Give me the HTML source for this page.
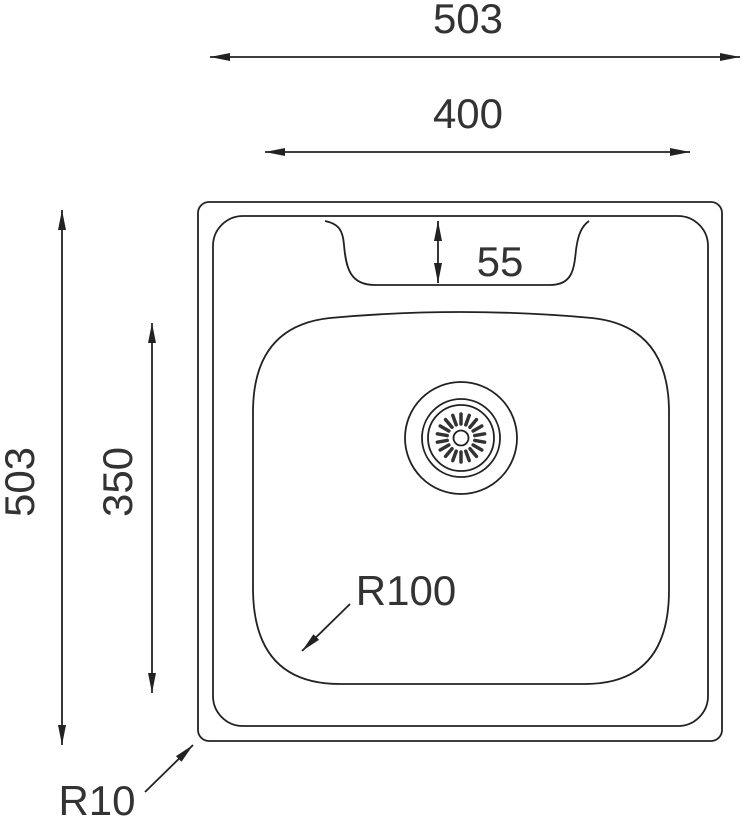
<!DOCTYPE html>
<html><head><style>html,body{margin:0;padding:0;background:#fff}svg{display:block}text{font-family:"Liberation Sans",sans-serif;font-size:42px;fill:#333;font-weight:300}</style></head>
<body>
<svg width="742" height="817" viewBox="0 0 742 817" xmlns="http://www.w3.org/2000/svg">
<defs>
<marker id="a" viewBox="0 0 10 10" refX="10" refY="5" markerWidth="20" markerHeight="8" markerUnits="userSpaceOnUse" orient="auto-start-reverse" preserveAspectRatio="none"><path d="M0,0 L10,5 L0,10 z" fill="#222"/></marker>
</defs>
<g stroke="#222" stroke-width="1.8" fill="none">
<line x1="210" y1="57" x2="740" y2="57" marker-start="url(#a)" marker-end="url(#a)"/>
<line x1="265" y1="152" x2="690" y2="152" marker-start="url(#a)" marker-end="url(#a)"/>
<line x1="62" y1="210" x2="62" y2="745" marker-start="url(#a)" marker-end="url(#a)"/>
<line x1="152" y1="323" x2="152" y2="693" marker-start="url(#a)" marker-end="url(#a)"/>
<line x1="438" y1="221" x2="438" y2="283" marker-start="url(#a)" marker-end="url(#a)"/>
<line x1="350" y1="604" x2="302" y2="651" marker-end="url(#a)"/>
<line x1="145" y1="792" x2="193" y2="745" marker-end="url(#a)"/>
<rect x="198" y="202" width="524" height="539" rx="11"/>
<rect x="213" y="216" width="495" height="510" rx="30"/>
<path d="M325,221 C340,224 343,232 344,245 C346,268 350,285 375,285 L550,285 C572,285 574,270 576,250 C578,234 582,226 589,221"/>
<path d="M330,318 Q461,306 592,318 Q668,326 669,410 L669,590 Q669,684 585,684 L340,684 Q254,684 253,590 L253,410 Q254,326 330,318 Z"/>
<circle cx="461" cy="438" r="56"/>
<circle cx="461" cy="438" r="39"/>
<circle cx="461" cy="438" r="33"/>
<circle cx="461" cy="438" r="7.5"/>
</g>
<g stroke="#333" stroke-width="3.5" stroke-linecap="round">
<line x1="461" y1="424" x2="461" y2="414" transform="rotate(0 461 438)"/>
<line x1="461" y1="424" x2="461" y2="414" transform="rotate(20 461 438)"/>
<line x1="461" y1="424" x2="461" y2="414" transform="rotate(40 461 438)"/>
<line x1="461" y1="424" x2="461" y2="414" transform="rotate(60 461 438)"/>
<line x1="461" y1="424" x2="461" y2="414" transform="rotate(80 461 438)"/>
<line x1="461" y1="424" x2="461" y2="414" transform="rotate(100 461 438)"/>
<line x1="461" y1="424" x2="461" y2="414" transform="rotate(120 461 438)"/>
<line x1="461" y1="424" x2="461" y2="414" transform="rotate(140 461 438)"/>
<line x1="461" y1="424" x2="461" y2="414" transform="rotate(160 461 438)"/>
<line x1="461" y1="424" x2="461" y2="414" transform="rotate(180 461 438)"/>
<line x1="461" y1="424" x2="461" y2="414" transform="rotate(200 461 438)"/>
<line x1="461" y1="424" x2="461" y2="414" transform="rotate(220 461 438)"/>
<line x1="461" y1="424" x2="461" y2="414" transform="rotate(240 461 438)"/>
<line x1="461" y1="424" x2="461" y2="414" transform="rotate(260 461 438)"/>
<line x1="461" y1="424" x2="461" y2="414" transform="rotate(280 461 438)"/>
<line x1="461" y1="424" x2="461" y2="414" transform="rotate(300 461 438)"/>
<line x1="461" y1="424" x2="461" y2="414" transform="rotate(320 461 438)"/>
<line x1="461" y1="424" x2="461" y2="414" transform="rotate(340 461 438)"/>
</g>
<text x="468" y="33" text-anchor="middle">503</text>
<text x="468" y="128" text-anchor="middle">400</text>
<text x="500" y="276" text-anchor="middle">55</text>
<text x="406" y="605" text-anchor="middle">R100</text>
<text x="97" y="815" text-anchor="middle">R10</text>
<text transform="translate(34,482) rotate(-90)" text-anchor="middle">503</text>
<text transform="translate(132,482) rotate(-90)" text-anchor="middle">350</text>
</svg>
</body></html>
